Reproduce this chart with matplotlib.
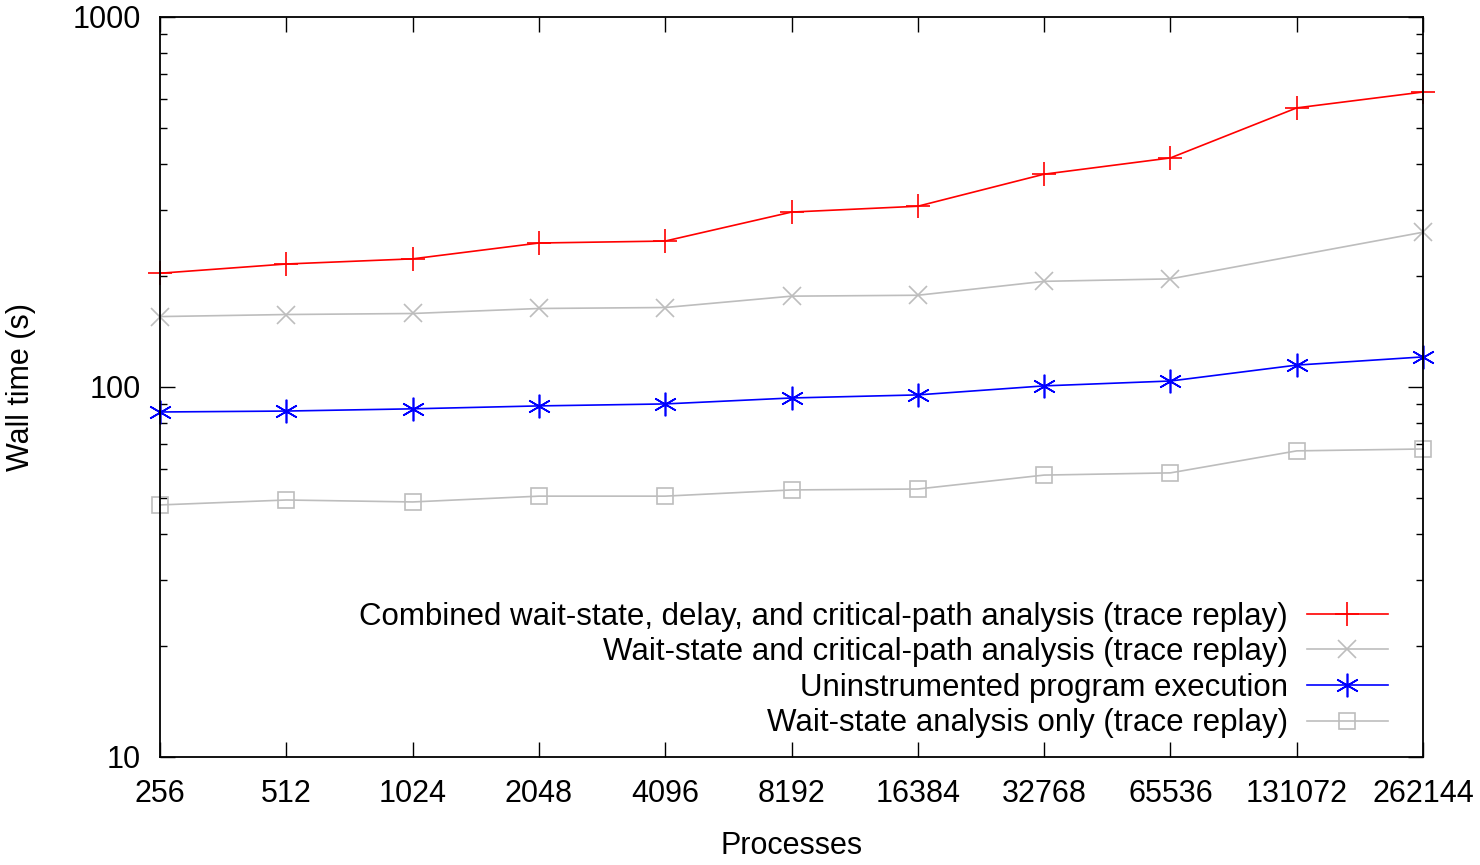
import matplotlib
matplotlib.use("Agg")
import matplotlib.pyplot as plt
from matplotlib.ticker import LogLocator, NullFormatter, FixedLocator, FixedFormatter

plt.rcParams['font.family'] = ['Liberation Sans', 'DejaVu Sans']

procs = [256, 512, 1024, 2048, 4096, 8192, 16384, 32768, 65536, 131072, 262144]
combined = [203, 215, 222, 245, 248, 297, 308, 376, 416, 568, 627]
critpath_x = [256, 512, 1024, 2048, 4096, 8192, 16384, 32768, 65536, 262144]
critpath = [155, 157, 158, 163, 164, 176, 177, 193, 196, 262]
uninstr = [85.6, 86.1, 87.3, 88.9, 90.0, 93.4, 95.2, 100.7, 103.8, 114.6, 120.6]
waitstate = [48.0, 49.5, 48.9, 50.7, 50.7, 52.7, 53.0, 57.8, 58.6, 67.2, 68.0]

gray = '#bdbdbd'
fs = 22

fig = plt.figure(figsize=(14.8, 8.65), dpi=100)
ax = fig.add_axes([160 / 1480, 1 - 757 / 865, (1423 - 160) / 1480, (757 - 17) / 865])

ax.plot(procs, combined, color='red', marker='+', ms=17, mew=1.2, lw=1.2, clip_on=False,
        label='Combined wait-state, delay, and critical-path analysis (trace replay)')
ax.plot(critpath_x, critpath, color=gray, marker='x', ms=13, mew=1.2, lw=1.2, clip_on=False,
        label='Wait-state and critical-path analysis (trace replay)')
ax.plot(procs, uninstr, color='blue', marker=(6, 2, 0), ms=17, mew=1.2, lw=1.2, clip_on=False,
        label='Uninstrumented program execution')
ax.plot(procs, waitstate, color=gray, marker='s', mfc='none', ms=12, mew=1.2, lw=1.2, clip_on=False,
        label='Wait-state analysis only (trace replay)')

ax.set_xscale('log', base=2)
ax.set_yscale('log')
ax.set_xlim(256, 262144)
ax.set_ylim(10, 1000)

ax.xaxis.set_major_locator(FixedLocator(procs))
ax.xaxis.set_major_formatter(FixedFormatter([str(p) for p in procs]))
ax.xaxis.set_minor_locator(FixedLocator([]))
ax.yaxis.set_major_locator(FixedLocator([10, 100, 1000]))
ax.yaxis.set_major_formatter(FixedFormatter(['10', '100', '1000']))
ax.yaxis.set_minor_locator(LogLocator(base=10, subs=range(2, 10)))
ax.yaxis.set_minor_formatter(NullFormatter())

ax.tick_params(which='both', direction='in', top=True, right=True, labelsize=fs)
ax.tick_params(which='major', length=11, width=1)
ax.tick_params(which='minor', length=5, width=1)
ax.tick_params(axis='x', pad=16)
ax.tick_params(axis='y', pad=14)
for s in ax.spines.values():
    s.set_linewidth(1.3)

ax.set_xlabel('Processes', fontsize=fs, labelpad=16)
ax.set_ylabel('Wall time (s)', fontsize=fs, labelpad=26)

leg = ax.legend(loc='lower right', frameon=False, fontsize=fs + 0.5, markerfirst=False,
                handlelength=2.6, handletextpad=0.6, labelspacing=0.18,
                borderpad=0, borderaxespad=0,
                bbox_to_anchor=((1388 - 160) / 1263, 0.025))

fig.savefig('out.png', dpi=100)
